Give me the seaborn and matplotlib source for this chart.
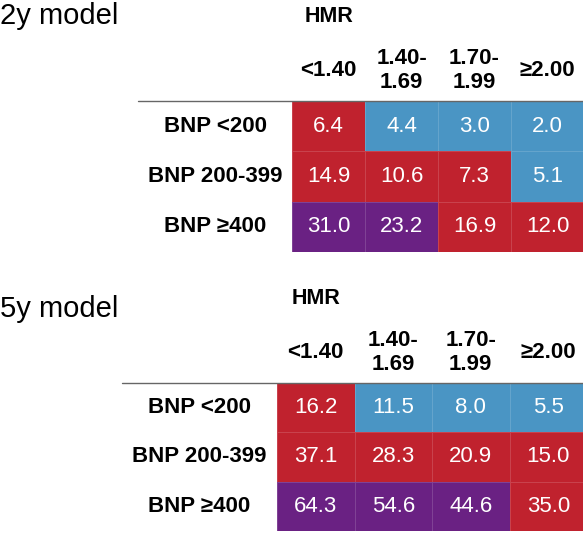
import numpy as np
import seaborn as sns
import matplotlib.pyplot as plt
from matplotlib.colors import ListedColormap
from matplotlib.lines import Line2D

# HMR columns and BNP rows
hmr_labels = ['<1.40', '1.40-\n1.69', '1.70-\n1.99', '≥2.00']
bnp_labels = ['BNP <200', 'BNP 200-399', 'BNP ≥400']

# predicted risk (%) per cell
risk_2y = [[6.4, 4.4, 3.0, 2.0],
           [14.9, 10.6, 7.3, 5.1],
           [31.0, 23.2, 16.9, 12.0]]
risk_5y = [[16.2, 11.5, 8.0, 5.5],
           [37.1, 28.3, 20.9, 15.0],
           [64.3, 54.6, 44.6, 35.0]]

# risk group of each cell: 0 low (blue), 1 mid (red), 2 high (purple)
group_2y = [[1, 0, 0, 0],
            [1, 1, 1, 0],
            [2, 2, 1, 1]]
group_5y = [[1, 0, 0, 0],
            [1, 1, 1, 1],
            [2, 2, 2, 1]]

sns.set_style('white')
plt.rcParams['font.family'] = ['Liberation Sans', 'DejaVu Sans']
plt.rcParams['text.color'] = 'black'
plt.rcParams['xtick.color'] = 'black'
plt.rcParams['ytick.color'] = 'black'

cmap = ListedColormap(['#4A95C4', '#C0222E', '#6A2183'])

W, H = 583, 534
fig = plt.figure(figsize=(W / 100, H / 100), dpi=100)


def panel(rect, values, groups, title, title_base, line_left, ylab_pad):
    left, top, width, height = rect
    ax = fig.add_axes([left / W, 1 - (top + height) / H, width / W, height / H])
    sns.heatmap(np.array(groups), ax=ax, cmap=cmap, vmin=-0.5, vmax=2.5,
                annot=np.array(values), fmt='.1f', cbar=False,
                linewidths=0.4, linecolor=(1, 1, 1, 0.15),
                annot_kws={'color': 'white', 'fontsize': 16},
                xticklabels=hmr_labels, yticklabels=bnp_labels)
    ax.xaxis.tick_top()
    ax.tick_params(axis='both', length=0)
    ax.tick_params(axis='x', pad=22)
    ax.tick_params(axis='y', pad=ylab_pad)
    for t in ax.get_xticklabels():
        t.set_fontsize(16)
        t.set_fontweight('bold')
        t.set_color('black')
        t.set_va('center')
        t.set_multialignment('center')
        t.set_rotation(0)
    for t in ax.get_yticklabels():
        t.set_fontsize(16)
        t.set_fontweight('bold')
        t.set_color('black')
        t.set_ha('center')
        t.set_rotation(0)
    ax.annotate('HMR', xy=(0.5, 0), xycoords='data', xytext=(0, 61),
                textcoords='offset points', ha='center', va='center',
                fontsize=15.5, fontweight='bold', color='black')
    fig.text(0.0, 1 - title_base / H, title, fontsize=21, va='baseline',
             ha='left', color='black')
    fig.add_artist(Line2D([line_left / W, 1], [1 - top / H, 1 - top / H],
                          color='#666666', lw=1.0))
    return ax


panel((292, 101, 292, 151), risk_2y, group_2y, '2y model', 24, 138, 55)
panel((277, 383, 310, 148), risk_5y, group_5y, '5y model', 317, 122, 56)

fig.savefig('out.png', dpi=100)
